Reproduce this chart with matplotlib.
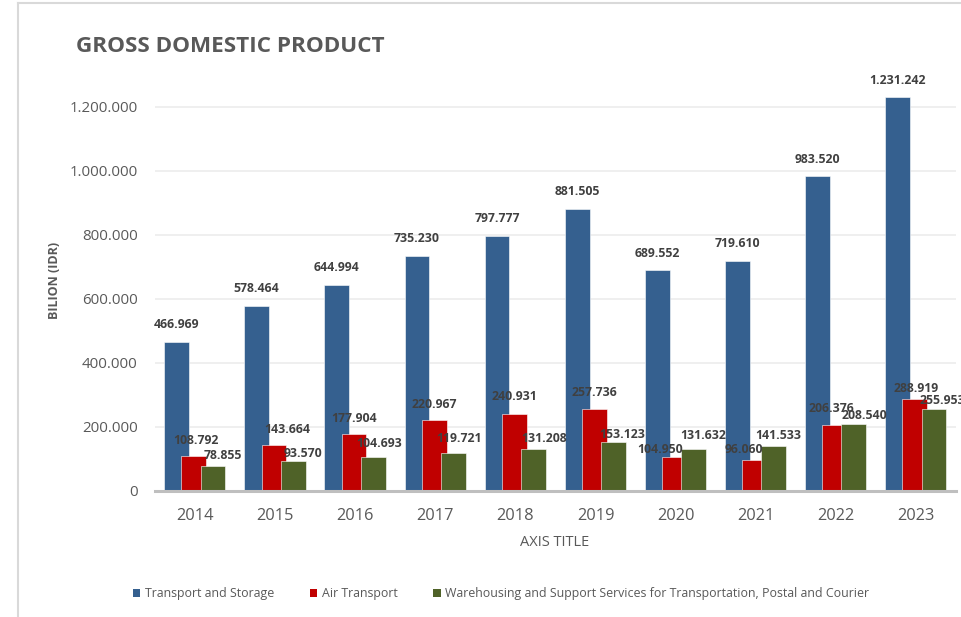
import matplotlib
matplotlib.use("Agg")
import matplotlib.pyplot as plt
from matplotlib.patches import Patch
from matplotlib.lines import Line2D
import numpy as np

years = ["2014", "2015", "2016", "2017", "2018", "2019", "2020", "2021", "2022", "2023"]
transport_storage = [466969, 578464, 644994, 735230, 797777, 881505, 689552, 719610, 983520, 1231242]
air_transport = [108792, 143664, 177904, 220967, 240931, 257736, 104950, 96060, 206376, 288919]
warehousing = [78855, 93570, 104693, 119721, 131208, 153123, 131632, 141533, 208540, 255953]
series_names = ["Transport and Storage", "Air Transport",
                "Warehousing and Support Services for Transportation, Postal and Courier"]
yticks = [0, 200000, 400000, 600000, 800000, 1000000, 1200000]

# label nudges in pixels (dx, dy) from bar top-centre to label centre
blue_dx = [0] * 10
blue_dy = [17] * 10
red_dx = [2, 13, 0, 0, 0, 0, -14, -11, -3, 1]
red_dy = [16, 16, 16, 16, 17, 16, 8, 11, 16, 10]
green_dx = [10, 10, 6, 6, 11, 9, 10, 4, 10, 8]
green_dy = [10, 8, 14, 14, 11, 8, 13, 10, 9, 9]

colors = ["#35608f", "#c00000", "#4f6228"]
offsets = [-0.23, -0.015, 0.225]
width = 0.31
txt = "#595959"
font = "Open Sans"

W, H = 962, 617
fig = plt.figure(figsize=(W / 100, H / 100), dpi=100)
fig.patch.set_facecolor("white")

# chart border (left & top visible)
fig.add_artist(Line2D([18 / W, 18 / W], [0, 1 - 3 / H], color="#d9d9d9", lw=1.5, transform=fig.transFigure))
fig.add_artist(Line2D([18 / W, 1], [1 - 3 / H, 1 - 3 / H], color="#d9d9d9", lw=1.5, transform=fig.transFigure))

ax = fig.add_axes([155 / W, (H - 491) / H, 801 / W, 416 / H])
ax.set_xlim(-0.5, 9.5)
ax.set_ylim(0, 1300000)
x = np.arange(len(years))

all_series = [transport_storage, air_transport, warehousing]
dxs = [blue_dx, red_dx, green_dx]
dys = [blue_dy, red_dy, green_dy]
for i, vals in enumerate(all_series):
    ax.bar(x + offsets[i], vals, width=width, color=colors[i], zorder=3 + i,
           edgecolor="white", linewidth=0.4, label=series_names[i])
for i, vals in enumerate(all_series):
    for j, v in enumerate(vals):
        s = f"{v:,}".replace(",", ".")
        ax.annotate(s, (x[j] + offsets[i], v), xytext=(dxs[i][j], dys[i][j]),
                    textcoords="offset pixels", ha="center", va="center",
                    fontsize=8.8, fontweight="bold", color="#404040",
                    family=font, zorder=10, annotation_clip=False)

ax.set_yticks(yticks)
ax.set_yticklabels([f"{t:,}".replace(",", ".") for t in yticks], family=font, fontsize=10.8, color=txt)
ax.set_xticks(x)
ax.set_xticklabels(years, family=font, fontsize=11.8, color=txt)
ax.tick_params(axis="both", length=0)
ax.tick_params(axis="y", pad=12.5)
ax.tick_params(axis="x", pad=12)
ax.grid(axis="y", color="#efefef", linewidth=1.4, zorder=0)
ax.set_axisbelow(True)
for side in ["top", "right", "left"]:
    ax.spines[side].set_visible(False)
ax.spines["bottom"].set_color("#bfbfbf")
ax.spines["bottom"].set_linewidth(2.2)
ax.spines["bottom"].set_zorder(8)

fig.text(76 / W, 1 - 52 / H, "GROSS DOMESTIC PRODUCT", family=font, fontsize=16.2,
         fontweight="bold", color=txt, va="baseline", ha="left")
fig.text(55 / W, 1 - 280 / H, "BILION (IDR)", family=font, fontsize=9, fontweight="bold",
         color=txt, rotation=90, ha="center", va="center")
fig.text(555 / W, 1 - 543 / H, "AXIS TITLE", family=font, fontsize=10.5, color=txt,
         ha="center", va="center")

handles = [Patch(facecolor=c, edgecolor="none") for c in colors]
leg = fig.legend(handles, series_names, loc="center", bbox_to_anchor=(501 / W, 1 - 594 / H),
                 ncol=3, frameon=False, prop={"family": font, "size": 8.9},
                 handlelength=0.6, handleheight=0.6, handletextpad=0.35, columnspacing=2.9,
                 borderaxespad=0, borderpad=0)
for t in leg.get_texts():
    t.set_color(txt)

fig.savefig("out.png", dpi=100, facecolor="white")
